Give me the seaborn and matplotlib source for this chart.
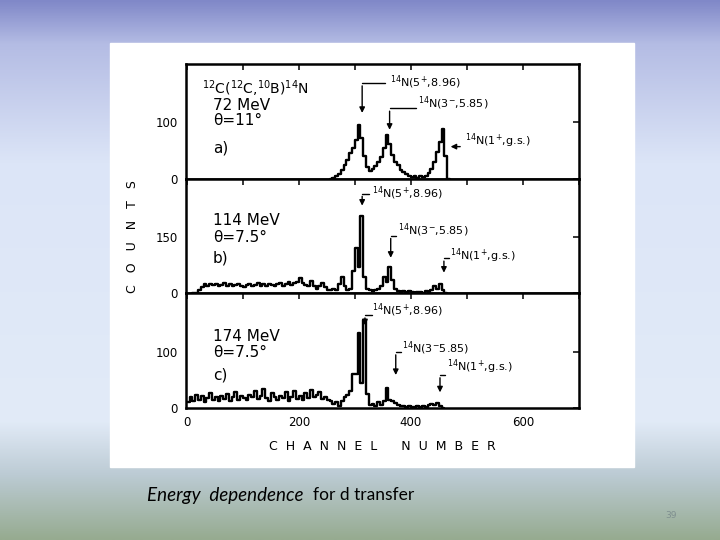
import numpy as np
import pandas as pd
import seaborn as sns
import matplotlib.pyplot as plt
from matplotlib.patches import Rectangle

# spectra, counts per 5-channel bin
BIN = 5
A_START = 255
A_COUNTS = [0, 2, 5, 9, 16, 24, 33, 45, 55, 68, 95, 72, 40, 20, 14, 18, 22, 30, 38, 55,
            77, 62, 42, 30, 24, 15, 11, 8, 5, 3, 5, 2, 4, 3, 5, 10, 18, 30, 48, 66,
            88, 40, 0, 0]
B_START = 10
B_COUNTS = [0, 0, 8, 18, 24, 21, 26, 22, 25, 20, 23, 27, 21, 24, 19, 23, 26, 20, 18, 22,
            25, 19, 23, 28, 20, 24, 21, 26, 22, 19, 25, 29, 21, 24, 30, 22, 27, 31, 40, 28,
            23, 19, 33, 21, 13, 19, 27, 17, 10, 8, 13, 9, 24, 45, 20, 8, 12, 60, 123, 70,
            209, 45, 12, 8, 6, 9, 12, 20, 45, 30, 70, 35, 12, 6, 4, 6, 3, 5, 4, 2,
            4, 3, 2, 5, 4, 8, 20, 12, 24, 10, 0, 0]
C_START = 0
C_COUNTS = [10, 20, 12, 24, 15, 22, 10, 18, 26, 14, 20, 12, 22, 16, 25, 13, 20, 28, 15, 22,
            18, 14, 24, 20, 30, 16, 22, 34, 18, 12, 26, 20, 14, 22, 18, 28, 12, 20, 30, 16,
            22, 14, 26, 18, 32, 20, 24, 28, 16, 20, 14, 12, 8, 10, 4, 12, 20, 24, 30, 60,
            60, 134, 45, 157, 25, 5, 8, 4, 10, 6, 12, 35, 14, 12, 9, 5, 3, 4, 2, 3,
            2, 1, 3, 2, 4, 2, 5, 8, 6, 9, 4, 0, 0]

STARTS = [A_START, B_START, C_START]
SPECTRA = [A_COUNTS, B_COUNTS, C_COUNTS]
Y_MAX = [204, 308, 205]
Y_TICKS = [[0, 100], [0, 150], [0, 100]]
X_TICKS = [0, 100, 200, 300, 400, 500, 600, 700]
X_LABELS = ['0', '', '200', '', '400', '', '600', '']

# panel captions: (text, channel, counts, size)
CAPTIONS = [
    [(r'$^{12}$C($^{12}$C,$^{10}$B)$^{14}$N', 27, 160, 10), ('72 MeV', 46, 130, 11),
     ('θ=11°', 46, 104, 11), ('a)', 46, 55, 11)],
    [('114 MeV', 46, 196, 11), ('θ=7.5°', 46, 150, 11), ('b)', 46, 96, 11)],
    [('174 MeV', 46, 127, 11), ('θ=7.5°', 46, 100, 11), ('c)', 46, 59, 11)],
]
# state markers: (label, arrow channel, bracket end, bracket level, tip level, text channel, text level)
STATES = [
    [(r'$^{14}$N(5$^{+}$,8.96)', 313, 354, 170, 112, 362, 171),
     (r'$^{14}$N(3$^{-}$,5.85)', 362, 409, 125, 82, 412, 134)],
    [(r'$^{14}$N(5$^{+}$,8.96)', 313, 325, 268, 228, 330, 268),
     (r'$^{14}$N(3$^{-}$,5.85)', 364, 373, 155, 88, 377, 169),
     (r'$^{14}$N(1$^{+}$,g.s.)', 459, 468, 94, 48, 470, 102)],
    [(r'$^{14}$N(5$^{+}$,8.96)', 318, 330, 166, 143, 330, 175),
     (r'$^{14}$N(3$^{-}$5.85)', 373, 382, 100, 54, 384, 107),
     (r'$^{14}$N(1$^{+}$,g.s.)', 452, 461, 59, 23, 464, 73)],
]
GS_A = (r'$^{14}$N(1$^{+}$,g.s.)', 466, 493, 57, 496, 68)

sns.set_style('white')
plt.rcParams['font.family'] = ['DejaVu Sans']
plt.rcParams['mathtext.default'] = 'regular'
for key in ['text.color', 'axes.labelcolor', 'xtick.color', 'ytick.color']:
    plt.rcParams[key] = 'black'

fig = plt.figure(figsize=(7.2, 5.4), dpi=100)

# slide background
stops = np.array([0.0, 0.08, 0.3, 0.78, 0.88, 1.0])
cols = np.array([[0x80, 0x88, 0xc8], [0xb4, 0xbc, 0xe4], [0xdc, 0xe5, 0xf7],
                 [0xe2, 0xeb, 0xf8], [0xbc, 0xcb, 0xd4], [0x96, 0xab, 0x90]]) / 255
yy = np.linspace(0, 1, 300)
grad = np.stack([np.interp(yy, stops, cols[:, k]) for k in range(3)], axis=1)[:, None, :]
bg = fig.add_axes([0, 0, 1, 1], zorder=-10)
bg.imshow(grad, aspect='auto', extent=[0, 1, 0, 1])
bg.axis('off')
fig.patches.append(Rectangle((110 / 720, 1 - 467 / 540), 524 / 720, 424 / 540,
                             transform=fig.transFigure, color='white', zorder=-5))

axes = fig.subplots(3, 1, sharex=True)
fig.subplots_adjust(left=0.258, right=0.804, top=0.8815, bottom=0.2444, hspace=0)

for i, ax in enumerate(axes):
    df = pd.DataFrame({'channel': [STARTS[i] + BIN * k for k in range(len(SPECTRA[i]))],
                       'counts': SPECTRA[i]})
    sns.lineplot(data=df, x='channel', y='counts', ax=ax, drawstyle='steps-post',
                 color='black', lw=1.7)
    ax.set_xlim(-2, 700)
    ax.set_ylim(0, Y_MAX[i])
    ax.set_xlabel('')
    ax.set_ylabel('')
    ax.set_yticks(Y_TICKS[i])
    ax.set_xticks(X_TICKS)
    ax.tick_params(direction='in', length=4, width=1.1, top=True, right=True,
                   labelsize=8.5, pad=6)
    for s in ax.spines.values():
        s.set_linewidth(1.8)
        s.set_color('black')
    for txt, cx, cy, fs in CAPTIONS[i]:
        ax.text(cx, cy, txt, fontsize=fs, va='center', ha='left')
    for lab, xa, xe, yb, yt, tx, ty in STATES[i]:
        ax.plot([xa, xe], [yb, yb], color='black', lw=1)
        ax.annotate('', xy=(xa, yt), xytext=(xa, yb),
                    arrowprops=dict(arrowstyle='-|>', color='black', lw=1, mutation_scale=8))
        ax.text(tx, ty, lab, fontsize=8, va='center', ha='left')

lab, xt, xs, yl, tx, ty = GS_A
axes[0].annotate('', xy=(xt, yl), xytext=(xs, yl),
                 arrowprops=dict(arrowstyle='-|>', color='black', lw=1, mutation_scale=8))
axes[0].text(tx, ty, lab, fontsize=8, va='center', ha='left')

axes[2].set_xticklabels(X_LABELS)

fig.text(133 / 720, 1 - 237 / 540, 'C   O   U   N   T   S', rotation=90, fontsize=9,
         ha='center', va='center')
fig.text(382 / 720, 1 - 447 / 540, 'C  H  A  N  N  E  L      N  U  M  B  E  R', fontsize=9,
         ha='center', va='center')

fig.text(147 / 720, 1 - 495 / 540, 'Energy  dependence', fontsize=13.5, style='italic',
         family='Lato', va='center', ha='left')
fig.text(313 / 720, 1 - 495 / 540, 'for d transfer', fontsize=12.5,
         family='Lato', va='center', ha='left')
fig.text(671 / 720, 1 - 515 / 540, '39', fontsize=6.5, color='#7f8f8f',
         va='center', ha='center')

fig.savefig('out.png', dpi=100)
